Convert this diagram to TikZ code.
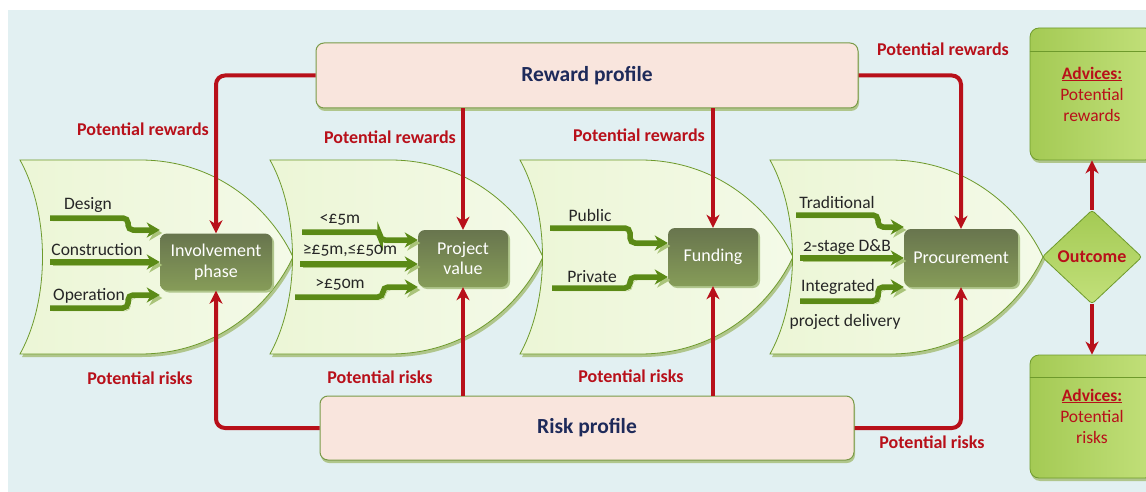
\documentclass[tikz,border=0pt]{standalone}
\usepackage{fontspec}
\setmainfont{Carlito}[Numbers=OldStyle]
\usepackage{tikz}
\usetikzlibrary{positioning,arrows.meta,shapes.geometric,shadows}
\definecolor{bgblue}{RGB}{226,240,242}
\definecolor{chevfill}{RGB}{236,246,214}
\definecolor{chevfilltwo}{RGB}{244,250,232}
\definecolor{chevedge}{RGB}{110,154,44}
\definecolor{shadowgreen}{RGB}{176,198,140}
\definecolor{profilepink}{RGB}{249,229,221}
\definecolor{profileedge}{RGB}{122,154,72}
\definecolor{phasedark}{RGB}{104,117,78}
\definecolor{phaselight}{RGB}{134,156,88}
\definecolor{riskred}{RGB}{184,16,26}
\definecolor{inputgreen}{RGB}{91,138,22}
\definecolor{inputshade}{RGB}{170,196,122}
\definecolor{outgreen}{RGB}{164,202,84}
\definecolor{outgreenlight}{RGB}{194,224,122}
\definecolor{profilenavy}{RGB}{30,42,90}

\begin{document}
\begin{tikzpicture}[x=1pt,y=-1pt,
        chev/.style={draw=chevedge, line width=0.8pt, left color=chevfill, right color=chevfilltwo,
            drop shadow={fill=shadowgreen, shadow xshift=2pt, shadow yshift=-3pt, opacity=1}},
        profile/.style={rounded corners=8pt, draw=profileedge, line width=1pt, fill=profilepink,
            drop shadow={fill=shadowgreen, shadow xshift=1pt, shadow yshift=-3pt, opacity=1},
            font=\fontsize{21.5}{24}\selectfont\bfseries, text=profilenavy},
        phase/.style={rounded corners=7pt, top color=phasedark, bottom color=phaselight, draw=none,
            align=center, text=white, font=\fontsize{18}{20.5}\selectfont, inner sep=0pt,
            drop shadow={fill=shadowgreen, shadow xshift=2pt, shadow yshift=-2pt, opacity=1}},
        lbl/.style={text=riskred, font=\fontsize{18}{20}\selectfont\bfseries, inner sep=0pt},
        optlbl/.style={text=black!85, font=\fontsize{17.5}{20}\selectfont, inner sep=0pt},
        riskarrow/.style={-{Stealth[length=13pt,width=13pt,inset=4pt]}, line width=4pt, draw=riskred, rounded corners=9pt},
        inarrow/.style={-{Stealth[length=13pt,width=15pt,inset=4pt]}, line width=5.5pt, draw=inputgreen, rounded corners=5pt,
            preaction={draw=inputshade, transform canvas={xshift=2.5pt,yshift=-3pt}}},
        outcome/.style={diamond, draw=chevedge, line width=0.8pt, top color=outgreen, bottom color=outgreenlight,
            minimum width=100pt, minimum height=94pt, inner sep=0pt, rounded corners=3pt,
            text=riskred, font=\fontsize{18}{20}\selectfont\bfseries},
        advice/.style={draw=chevedge, line width=0.8pt, rounded corners=9pt, left color=outgreen, right color=outgreenlight,
            minimum width=124pt, drop shadow={fill=shadowgreen, shadow xshift=1pt, shadow yshift=-3pt, opacity=1}},
        advtext/.style={text=riskred, align=center, font=\fontsize{17.5}{21}\selectfont}
    ]
    \useasboundingbox (0,0) rectangle (1146,492);
    \fill[bgblue] (8,10) rectangle (1146,492);

    % the four stages of the chain
    \foreach \cx in {20,270,520,770} {
        \path[chev] (\cx,160) -- (\cx+120,160)
            .. controls (\cx+200,160) and (\cx+252,212) .. (\cx+273,257)
            .. controls (\cx+252,302) and (\cx+200,354) .. (\cx+120,354)
            -- (\cx,354) .. controls (\cx+30,300) and (\cx+30,214) .. (\cx,160) -- cycle;
    }

    \node[profile, minimum width=542pt, minimum height=65pt] (reward) at (587,75.5) {Reward profile};
    \node[profile, minimum width=534pt, minimum height=64pt] (risk) at (587,428) {Risk profile};

    \node[phase, minimum width=112pt, minimum height=57pt] (inv) at (216,262) {Involvement\\phase};
    \node[phase, minimum width=90pt, minimum height=57pt] (pv) at (463,258.5) {Project\\value};
    \node[phase, minimum width=90pt, minimum height=58pt] (fund) at (713,257) {Funding};
    \node[phase, minimum width=114pt, minimum height=58pt] (proc) at (961,258) {Procurement};

    \node[outcome] (out) at (1092,257) {Outcome};
    \node[advice, minimum height=132pt] (advr) at (1092,94) {};
    \node[advice, minimum height=123pt] (advk) at (1092,416.5) {};
    \draw[chevedge, line width=0.8pt] ([yshift=-24pt]advr.north west) -- ([yshift=-24pt]advr.north east);
    \draw[chevedge, line width=0.8pt] ([yshift=-23pt]advk.north west) -- ([yshift=-23pt]advk.north east);
    \node[advtext] (advrtext) at (1092,94) {\textbf{\underline{Advices:}}\\Potential\\rewards};
    \node[advtext] (advktext) at (1092,416) {\textbf{\underline{Advices:}}\\Potential\\risks};

    % rewards come down, risks come up
    \draw[riskarrow] (reward.west) -| (inv.north);
    \draw[riskarrow] (reward.south -| pv.north) -- (pv.north);
    \draw[riskarrow] (reward.south -| fund.north) -- (fund.north);
    \draw[riskarrow] (reward.east) -| (proc.north);
    \draw[riskarrow] (risk.west) -| (inv.south);
    \draw[riskarrow] (risk.north -| pv.south) -- (pv.south);
    \draw[riskarrow] (risk.north -| fund.south) -- (fund.south);
    \draw[riskarrow] (risk.east) -| (proc.south);
    \draw[riskarrow] (out.north) -- (advr.south);
    \draw[riskarrow] (out.south) -- (advk.north);

    \node[lbl] (rewinv) at (143,129) {Potential rewards};
    \node[lbl] (rewpv) at (390,137) {Potential rewards};
    \node[lbl] (rewfund) at (639,135) {Potential rewards};
    \node[lbl] (rewproc) at (943,49) {Potential rewards};
    \node[lbl] (riskinv) at (140,378) {Potential risks};
    \node[lbl] (riskpv) at (380,377) {Potential risks};
    \node[lbl] (riskfund) at (631,376) {Potential risks};
    \node[lbl] (riskproc) at (932,442) {Potential risks};

    % options feeding each stage
    \coordinate (design) at (50,218);
    \coordinate (constr) at (50,262);
    \coordinate (oper) at (50,308);
    \draw[inarrow] (design) -- ++(78,0) |- ([yshift=32pt]inv.west);
    \draw[inarrow] (constr) -- (inv.west);
    \draw[inarrow] (oper) -- ++(78,0) |- ([yshift=-33pt]inv.west);
    \node[optlbl] (tdesign) at (88,205) {Design};
    \node[optlbl] (tconstr) at (97,250) {Construction};
    \node[optlbl] (toper) at (89,296) {Operation};

    \coordinate (small) at (302,232);
    \coordinate (medium) at (300,264);
    \coordinate (large) at (295,297);
    \draw[inarrow] (small) -- ++(78,0) |- ([yshift=18.5pt]pv.west);
    \draw[inarrow] (medium) -- ([yshift=-5.5pt]pv.west);
    \draw[inarrow] (large) -- ++(88,0) |- ([yshift=-28.5pt]pv.west);
    \node[optlbl] (tsmall) at (340,220) {<£5m};
    \node[optlbl] (tmedium) at (350,251) {≥£5m,≤£50m};
    \node[optlbl] (tlarge) at (340,285) {>£50m};

    \coordinate (public) at (550,228);
    \coordinate (private) at (552,288);
    \draw[inarrow] (public) -- ++(80,0) |- ([yshift=14pt]fund.west);
    \draw[inarrow] (private) -- ++(78,0) |- ([yshift=-20pt]fund.west);
    \node[optlbl] (tpublic) at (590,215) {Public};
    \node[optlbl] (tprivate) at (592,277) {Private};

    \coordinate (trad) at (796,215);
    \coordinate (twostage) at (800,258);
    \coordinate (integ) at (800,301);
    \draw[inarrow] (trad) -- ++(82,0) |- ([yshift=31pt]proc.west);
    \draw[inarrow] (twostage) -- (proc.west);
    \draw[inarrow] (integ) -- ++(78,0) |- ([yshift=-29pt]proc.west);
    \node[optlbl] (ttrad) at (837,202) {Traditional};
    \node[optlbl] (ttwostage) at (847,247) {2-stage D\&B};
    \node[optlbl] (tinteg) at (838,287) {Integrated};
    \node[optlbl] (tdelivery) at (845,322) {project delivery};
\end{tikzpicture}
\end{document}
